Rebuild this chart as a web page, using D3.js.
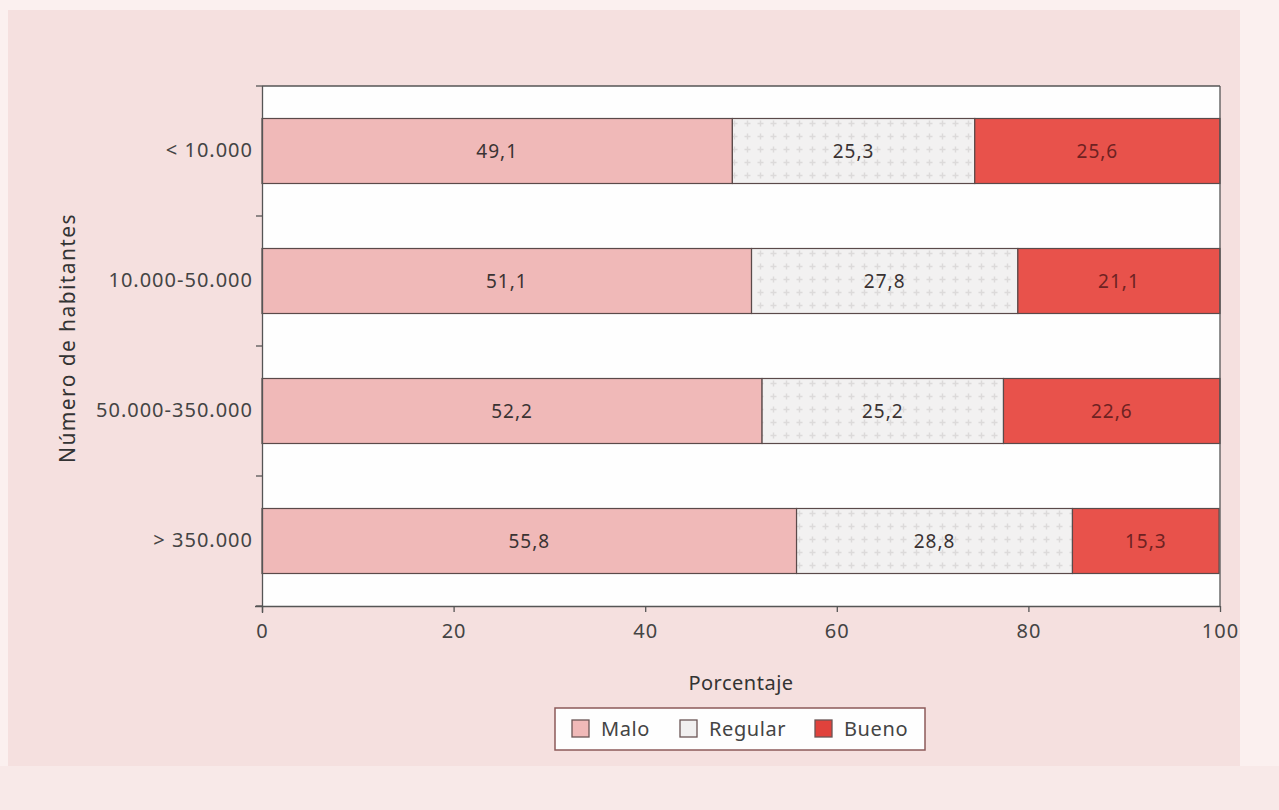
<!DOCTYPE html>
<html>
<head>
<meta charset="utf-8">
<script src="https://cdn.jsdelivr.net/npm/d3@7"></script>
<style>
  html, body { margin: 0; padding: 0; background: #fbf0ef; }
  svg { display: block; font-family: "Noto Sans", "Open Sans", sans-serif; }
</style>
</head>
<body>
<svg id="chart" width="1279" height="810"></svg>
<script>
// Population groups and the share of each rating (percent)
const categories = ["< 10.000", "10.000-50.000", "50.000-350.000", "> 350.000"];
const seriesNames = ["Malo", "Regular", "Bueno"];
const malo    = [49.1, 51.1, 52.2, 55.8];
const regular = [25.3, 27.8, 25.2, 28.8];
const bueno   = [25.6, 21.1, 22.6, 15.3];
const xTicks  = [0, 20, 40, 60, 80, 100];

const rows = categories.map((c, i) => ({ cat: c, Malo: malo[i], Regular: regular[i], Bueno: bueno[i] }));

const svg = d3.select("#chart");
const W = 1279, H = 810;

// page background panels
svg.append("rect").attr("x", 0).attr("y", 0).attr("width", W).attr("height", H).attr("fill", "#fbf0ef");
svg.append("rect").attr("x", 8).attr("y", 10).attr("width", 1232).attr("height", 756).attr("fill", "#f5e0df");
svg.append("rect").attr("x", 0).attr("y", 766).attr("width", W).attr("height", 44).attr("fill", "#f8e9e8");

const margin = { left: 262, right: 59, top: 86, bottom: 204 };
const x = d3.scaleLinear().domain([0, 100]).range([margin.left, W - margin.right]);
const y = d3.scaleBand().domain(categories).range([margin.top, H - margin.bottom]).paddingInner(0.5).paddingOuter(0.25);

// dotted pattern for the "Regular" fill
const defs = svg.append("defs");
const pat = defs.append("pattern").attr("id", "dots").attr("patternUnits", "userSpaceOnUse")
  .attr("width", 13).attr("height", 13);
pat.append("rect").attr("width", 13).attr("height", 13).attr("fill", "#f2f1f1");
pat.append("path").attr("d", "M6.5 3.5 V9.5 M3.5 6.5 H9.5").attr("stroke", "#dcdada").attr("stroke-width", 1.4);

const colors = { Malo: "#f0b9b8", Regular: "url(#dots)", Bueno: "#e8524b" };
const swatch = { Malo: "#f0b9b8", Regular: "#f1f0f0", Bueno: "#e0423c" };
const labelColor = { Malo: "#3a3333", Regular: "#3a3333", Bueno: "#6e2222" };

// plot area
svg.append("rect").attr("x", x(0)).attr("y", margin.top)
  .attr("width", x(100) - x(0)).attr("height", H - margin.bottom - margin.top)
  .attr("fill", "#fefefe");

const stack = d3.stack().keys(seriesNames)(rows);

const g = svg.append("g");
stack.forEach(layer => {
  const key = layer.key;
  g.selectAll(null).data(layer).join("rect")
    .attr("x", d => x(d[0]))
    .attr("y", d => y(d.data.cat))
    .attr("width", d => x(d[1]) - x(d[0]))
    .attr("height", y.bandwidth())
    .attr("fill", colors[key])
    .attr("stroke", "#5a4a4a")
    .attr("stroke-width", 1.2);
  g.selectAll(null).data(layer).join("text")
    .attr("x", d => (x(d[0]) + x(d[1])) / 2)
    .attr("y", d => y(d.data.cat) + y.bandwidth() / 2)
    .attr("dy", "0.35em")
    .attr("text-anchor", "middle")
    .attr("font-size", 19)
    .attr("letter-spacing", 1)
    .attr("fill", labelColor[key])
    .text(d => d3.format(".1f")(d.data[key]).replace(".", ","));
});

// frame: top and right borders
svg.append("line").attr("x1", x(0)).attr("x2", x(100)).attr("y1", margin.top).attr("y2", margin.top)
  .attr("stroke", "#555").attr("stroke-width", 1.3);
svg.append("line").attr("x1", x(100)).attr("x2", x(100)).attr("y1", margin.top).attr("y2", H - margin.bottom)
  .attr("stroke", "#555").attr("stroke-width", 1.3);

// x axis
const xAxis = svg.append("g").attr("transform", `translate(0,${H - margin.bottom})`)
  .call(d3.axisBottom(x).tickValues(xTicks).tickSize(6).tickSizeOuter(0).tickPadding(12));
xAxis.select(".domain").attr("stroke", "#555").attr("stroke-width", 1.3)
  .attr("d", `M${x(0) - 7},0.5H${x(100)}`);
xAxis.selectAll(".tick line").attr("stroke", "#555").attr("stroke-width", 1.3);
xAxis.selectAll(".tick text").attr("font-size", 20).attr("letter-spacing", 1)
  .attr("fill", "#444").attr("font-family", "Noto Sans, sans-serif");

// y axis: labels at band centres, ticks at band boundaries
const yAxis = svg.append("g").attr("transform", `translate(${x(0)},0)`)
  .call(d3.axisLeft(y).tickSize(0).tickPadding(9));
yAxis.select(".domain").attr("stroke", "#555").attr("stroke-width", 1.3)
  .attr("d", `M0.5,${margin.top}V${H - margin.bottom + 7}`);
yAxis.selectAll(".tick text").attr("font-size", 20).attr("letter-spacing", 1)
  .attr("fill", "#444").attr("font-family", "Noto Sans, sans-serif");
const step = y.step();
const gap = step - y.bandwidth();
const bounds = d3.range(categories.length + 1).map(i => y(categories[0]) - gap / 2 + i * step);
yAxis.selectAll(".bound").data(bounds).join("line")
  .attr("x1", -6).attr("x2", 0).attr("y1", d => d).attr("y2", d => d)
  .attr("stroke", "#555").attr("stroke-width", 1.3);

// axis titles
svg.append("text").attr("x", (x(0) + x(100)) / 2).attr("y", 690)
  .attr("text-anchor", "middle").attr("font-size", 20).attr("letter-spacing", 0.5)
  .attr("fill", "#333").text("Porcentaje");
svg.append("text")
  .attr("transform", `translate(75,${(margin.top + H - margin.bottom) / 2 - 8}) rotate(-90)`)
  .attr("text-anchor", "middle").attr("font-size", 21).attr("letter-spacing", 1.4)
  .attr("fill", "#333").text("Número de habitantes");

// legend
const lg = svg.append("g").attr("transform", "translate(555,708)");
lg.append("rect").attr("width", 370).attr("height", 42).attr("fill", "#fefefe")
  .attr("stroke", "#8c5a5a").attr("stroke-width", 1.5);
const lx = [17, 125, 260];
seriesNames.forEach((s, i) => {
  lg.append("rect").attr("x", lx[i]).attr("y", 12).attr("width", 17).attr("height", 17)
    .attr("fill", swatch[s]).attr("stroke", "#6a5555").attr("stroke-width", 1.3);
  lg.append("text").attr("x", lx[i] + 29).attr("y", 21).attr("dy", "0.35em")
    .attr("font-size", 20).attr("letter-spacing", 0.6).attr("fill", "#444").text(s);
});
</script>
</body>
</html>
